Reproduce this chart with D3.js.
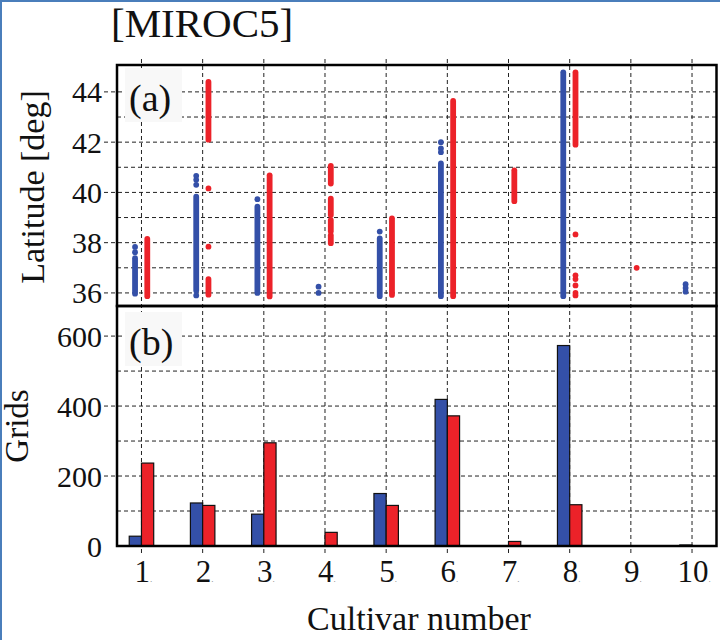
<!DOCTYPE html>
<html>
<head>
<meta charset="utf-8">
<script src="https://cdn.jsdelivr.net/npm/d3@7"></script>
<style>
body { margin:0; background:#fff; }
svg text { font-family: 'Liberation Serif', 'DejaVu Serif', serif; fill:#111; }
</style>
</head>
<body>
<svg id="chart" width="720" height="640"></svg>
<script>
// cultivar numbers on the x axis
var cultivars = [1,2,3,4,5,6,7,8,9,10];

// (b) number of grids per cultivar
var blueGrids = [28,123,91,0,150,419,0,573,0,3];
var redGrids  = [237,116,295,39,116,372,13,118,1,0];

// (a) latitude columns: [cultivar, from, to]
var blueRanges = [[1,35.97,37.38],[2,36.1,39.83],[3,36.0,39.43],[5,35.87,38.17],[6,35.87,41.15],[8,35.87,44.78]];
var blueDots = [[1,37.62],[1,37.83],[2,40.66],[2,40.5],[2,40.3],[2,35.9],[3,39.73],[4,36.25],[4,36.0],
                [5,38.44],[6,42.0],[6,41.75],[6,41.6],[10,36.35],[10,36.2],[10,36.05]];
var redRanges = [[1,35.87,38.15],[2,42.1,44.4],[2,35.93,36.55],[3,35.86,40.68],[4,40.35,41.05],[4,39.1,39.75],
                 [4,38.45,38.9],[4,37.98,38.3],[5,35.92,38.97],[6,35.87,43.64],[7,39.65,40.88],[8,41.9,44.78]];
var redDots = [[2,40.16],[2,37.84],[8,38.33],[8,36.7],[8,36.55],[8,36.3],[8,36.0],[8,35.9],[9,37.0]];

var latTicks = [36,38,40,42,44];
var latMinor = [37,39,41,43];
var gridTicks = [0,200,400,600];
var gridMinor = [100,300,500];

var blue = "#3450a8", red = "#ec2229";

function render()
{
	var svg = d3.select('#chart');
	var left = 117, right = 716.5, topA = 65, mid = 306, bot = 546;

	var x = d3.scaleLinear().domain([0.6,10.4]).range([left,right]);
	var ya = d3.scaleLinear().domain([35.48,45.07]).range([mid,topA]);
	var yb = d3.scaleLinear().domain([0,686]).range([bot,mid]);

	// image frame
	svg.append('line').attr('x1',1).attr('x2',1).attr('y1',0).attr('y2',640).attr('stroke','#4a7ebb').attr('stroke-width',2);
	svg.append('line').attr('x1',0).attr('x2',720).attr('y1',1).attr('y2',1).attr('stroke','#4a7ebb').attr('stroke-width',2);

	var grid = svg.append('g').attr('stroke','#222').attr('stroke-width',1).attr('stroke-dasharray','4,3');

	// vertical grid
	grid.selectAll('line.v').data(cultivars).enter().append('line')
		.attr('x1',function(d){return x(d);}).attr('x2',function(d){return x(d);})
		.attr('y1',topA-6).attr('y2',bot+7);

	// horizontal grid, panel a
	grid.selectAll('line.ha').data(latTicks).enter().append('line')
		.attr('x1',104).attr('x2',right+4)
		.attr('y1',function(d){return ya(d);}).attr('y2',function(d){return ya(d);});
	grid.selectAll('line.ham').data(latMinor).enter().append('line')
		.attr('x1',left).attr('x2',right)
		.attr('y1',function(d){return ya(d);}).attr('y2',function(d){return ya(d);});
	// panel b
	grid.selectAll('line.hb').data(gridTicks.slice(1)).enter().append('line')
		.attr('x1',104).attr('x2',right+4)
		.attr('y1',function(d){return yb(d);}).attr('y2',function(d){return yb(d);});
	grid.selectAll('line.hbm').data(gridMinor).enter().append('line')
		.attr('x1',left).attr('x2',right)
		.attr('y1',function(d){return yb(d);}).attr('y2',function(d){return yb(d);});

	// label boxes
	svg.append('rect').attr('x',125).attr('y',68).attr('width',57).attr('height',54).attr('fill','#f8f8f8');
	svg.append('rect').attr('x',125).attr('y',312).attr('width',57).attr('height',54).attr('fill','#f8f8f8');

	// panel a: latitude columns
	var dotW = 5.8;
	function cols(data, off, color)
	{
		svg.append('g').selectAll('line').data(data).enter().append('line')
			.attr('x1',function(d){return x(d[0]+off);}).attr('x2',function(d){return x(d[0]+off);})
			.attr('y1',function(d){return ya(d[1]);}).attr('y2',function(d){return ya(d[2]);})
			.attr('stroke',color).attr('stroke-width',dotW).attr('stroke-linecap','round');
	}
	function dots(data, off, color)
	{
		svg.append('g').selectAll('circle').data(data).enter().append('circle')
			.attr('cx',function(d){return x(d[0]+off);})
			.attr('cy',function(d){return ya(d[1]);})
			.attr('r',dotW/2).attr('fill',color);
	}
	cols(blueRanges,-0.105,blue);
	dots(blueDots,-0.105,blue);
	cols(redRanges,0.095,red);
	dots(redDots,0.095,red);

	// panel b: bars
	var bw = 0.2;
	svg.append('g').selectAll('rect').data(cultivars).enter().append('rect')
		.attr('x',function(d){return x(d-bw);})
		.attr('width',function(d){return x(d)-x(d-bw);})
		.attr('y',function(d,i){return yb(blueGrids[i]);})
		.attr('height',function(d,i){return bot-yb(blueGrids[i]);})
		.attr('fill',blue).attr('stroke','#111').attr('stroke-width',1.2);
	svg.append('g').selectAll('rect').data(cultivars).enter().append('rect')
		.attr('x',function(d){return x(d);})
		.attr('width',function(d){return x(d+bw)-x(d);})
		.attr('y',function(d,i){return yb(redGrids[i]);})
		.attr('height',function(d,i){return bot-yb(redGrids[i]);})
		.attr('fill',red).attr('stroke','#111').attr('stroke-width',1.2);

	// frames
	svg.append('rect').attr('x',left).attr('y',topA).attr('width',right-left).attr('height',mid-topA)
		.attr('fill','none').attr('stroke','#000').attr('stroke-width',2.5);
	svg.append('rect').attr('x',left).attr('y',mid).attr('width',right-left).attr('height',bot-mid)
		.attr('fill','none').attr('stroke','#000').attr('stroke-width',2.5);

	// tick labels
	svg.append('g').selectAll('text').data(latTicks).enter().append('text')
		.attr('x',102).attr('y',function(d){return ya(d);}).attr('dy','0.35em')
		.attr('text-anchor','end').style('font-size','30px').text(function(d){return d;});
	svg.append('g').selectAll('text').data(gridTicks).enter().append('text')
		.attr('x',102).attr('y',function(d){return yb(d);}).attr('dy','0.35em')
		.attr('text-anchor','end').style('font-size','30px').text(function(d){return d;});
	var xl = svg.append('g').selectAll('text').data(cultivars).enter().append('text')
		.attr('x',function(d){return x(d)+2;}).attr('y',582)
		.attr('text-anchor','middle').style('font-size','31px');
	xl.append('tspan').text(function(d){return d;});
	xl.append('tspan').style('font-size','9px').style('fill','#777').text('.');

	// titles
	svg.append('text').attr('x',111).attr('y',37).style('font-size','41px').text('[MIROC5]');
	svg.append('text').attr('x',129).attr('y',111).style('font-size','38px').text('(a)');
	svg.append('text').attr('x',129).attr('y',355).style('font-size','38px').text('(b)');
	svg.append('text').attr('x',419).attr('y',630).attr('text-anchor','middle').style('font-size','34px').text('Cultivar number');
	svg.append('text').attr('transform','translate(44,187) rotate(-90)').attr('text-anchor','middle')
		.style('font-size','34px').text('Latitude [deg]');
	svg.append('text').attr('transform','translate(28,426) rotate(-90)').attr('text-anchor','middle')
		.style('font-size','33px').text('Grids');
}

render();
</script>
</body>
</html>
